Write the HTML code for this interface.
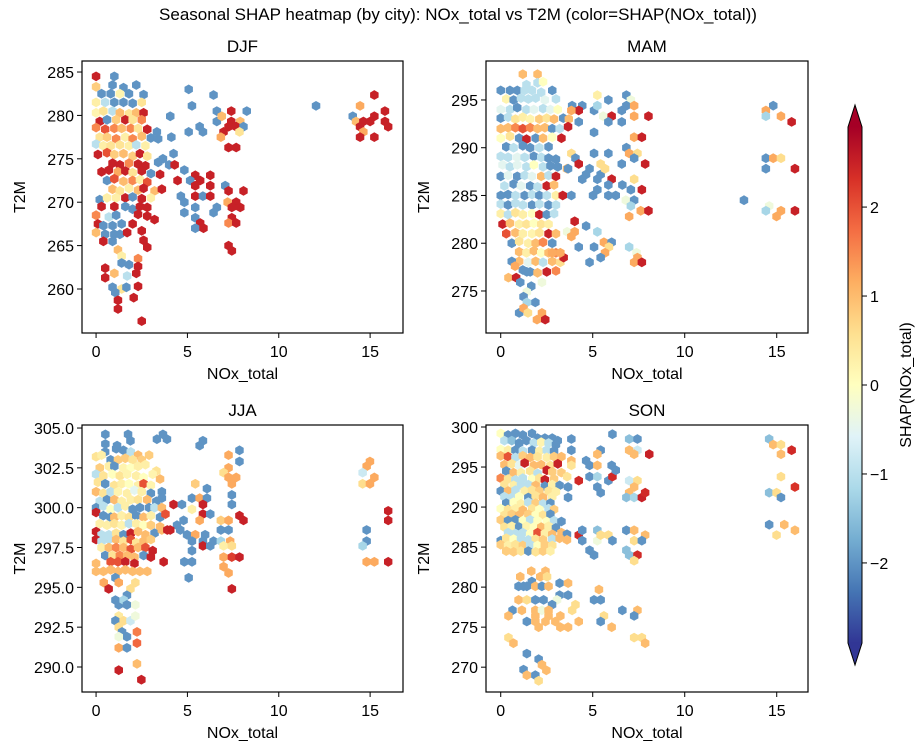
<!DOCTYPE html>
<html><head><meta charset="utf-8"><style>
body{margin:0;background:#fff;}
svg{display:block;font-family:"Liberation Sans",Arial,sans-serif;}
</style></head><body>
<svg id="fig" width="917" height="746" viewBox="0 0 917 746" xmlns="http://www.w3.org/2000/svg">
<text x="458" y="20" font-size="17" text-anchor="middle">Seasonal SHAP heatmap (by city): NOx_total vs T2M (color=SHAP(NOx_total))</text>
</svg>
<script>
const xTicks=[0,5,10,15];
const djfYTicks=[260,265,270,275,280,285];
const mamYTicks=[275,280,285,290,295];
const jjaYTicks=[290.0,292.5,295.0,297.5,300.0,302.5,305.0];
const sonYTicks=[270,275,280,285,290,295,300];
const cbTicks=[-2,-1,0,1,2];
const seasons=["DJF","MAM","JJA","SON"];
const djfCells=[[0,284.5,2.5],[1,284.5,-2],[0,283.3,0.8],[0.9,283.5,-2],[1.5,283.2,-2],[2.2,283.5,-2],[0.3,282.5,-2],[0.8,282.5,-2],[1.3,282.5,0.2],[1.8,282.5,-2],[2.6,282.4,-2],[0,281.5,0.3],[0.5,281.5,-1],[1,281.5,-2],[1.5,281.5,-2],[2,281.4,-2],[2.5,281.5,0.5],[0,280.3,0.2],[0.4,280.5,0.5],[0.9,280.5,-1],[1.3,280.3,1],[1.8,280.2,0.5],[2.2,280.3,1],[2.6,280.3,2.5],[0.2,279.3,2.5],[0.6,279.5,-2],[1.1,279.5,0.8],[1.6,279.5,2.5],[2.0,279.5,0.5],[2.5,279.5,1.5],[0,278.6,1.5],[0.5,278.4,2],[1,278.5,1.5],[1.4,278.5,1],[1.9,278.5,1.5],[2.3,278.5,0.5],[2.8,278.4,2.5],[0.2,277.5,0.5],[0.6,277.5,0.8],[1.1,277.3,1.5],[1.6,277.5,0.3],[2.0,277.3,1.5],[2.5,277.6,1],[3,277.4,-2],[3.4,277.3,-2],[0,276.7,-1],[0.4,276.5,0.3],[0.8,276.5,0.5],[1.3,276.6,0.5],[1.8,276.5,0.3],[2.2,276.6,-1],[2.7,276.5,0.3],[0.1,275.5,2.5],[0.6,275.7,2],[1.0,275.5,0.8],[1.5,275.6,1],[2.0,275.3,0.8],[2.4,275.6,2.5],[2.8,275.3,0.5],[0.9,274.5,2.5],[1.3,274.3,2.5],[1.8,274.5,1.5],[2.3,274.4,2.5],[2.7,274.2,2.5],[3.4,274.6,-2],[0.3,273.5,2.5],[0.7,273.7,2.5],[1.2,273.5,1.2],[1.6,273.6,2.5],[2.0,273.4,0.5],[2.5,273.6,2.5],[3.0,273.3,-2],[3.5,273.2,2.5],[0.6,272.5,-2],[1.0,272.7,2],[1.5,272.4,1],[2.0,272.5,1.5],[2.4,272.6,0.3],[2.8,272.3,2],[0.9,271.5,1],[1.3,271.3,0.5],[1.8,271.6,0.3],[2.3,271.4,1],[2.6,271.6,2.5],[3.2,271.3,1],[3.6,271.5,2.5],[0.2,270.3,-2],[0.6,270.5,0.3],[1.1,270.5,0.3],[1.6,270.5,2.5],[2.0,270.6,-2],[2.5,270.4,2.5],[3.0,270.5,0.3],[0.3,269.5,2.5],[1.0,269.5,2.5],[1.6,269.5,-2],[2.0,269.2,-2],[2.4,269.5,2.5],[2.8,269.4,2.5],[0,268.5,1.5],[0.7,268.3,-1],[1.1,268.5,-2],[2.3,268.6,2.5],[2.8,268.4,2.5],[3.2,268.0,2.5],[0.1,267.5,2.5],[0.4,267.3,-2],[0.9,267.3,-2],[1.4,267.5,-2],[2.0,267.5,2.5],[0,266.5,1],[0.5,266.3,-2],[1.0,266.3,-2],[1.3,266.3,-2],[1.7,266.5,2.5],[2.5,266.7,2.5],[0.4,265.5,2.5],[0.9,265.5,-2],[2.6,265.6,2.5],[1.2,264.5,1],[2.8,264.8,2.5],[1.4,263.8,0.3],[2.3,263.5,1.5],[1.4,263.0,-2],[1.8,262.8,-2],[2.3,262.6,2.5],[0.5,262.4,2.5],[0.5,261.3,2.5],[1.0,261.8,1],[1.7,261.5,-1],[2.2,261.8,2.5],[0.9,260.2,-2],[1.4,260.0,0.5],[2.3,260.3,2.5],[1.66,260.2,-2],[1.05,259.6,-2],[1.2,258.7,2.5],[2.06,259,2.5],[1.2,257.7,2.5],[2.5,256.3,2.5],
[5.07,283.0,-2],[6.43,282.35,-2],[5.25,281.1,-2],[6.61,280.5,-2],[7.4,280.5,2.5],[8.25,280.5,-2],[4.06,279.9,-2],[6.61,279.3,-2],[6.88,279.9,1],[7.89,279.3,1],[7.4,279.3,2.5],[7.25,278.7,2.5],[7.67,278.7,2.5],[8.07,278.7,-2],[5.67,278.7,-2],[5.07,278.1,-2],[5.85,278.1,-2],[6.98,278.1,2.5],[7.85,278.1,0.5],[6.83,277.5,1.2],[4.12,277.5,-2],[3.33,278.1,-2],[7.25,276.3,2.5],[7.67,276.3,2.5],[4.24,275.6,-2],[3.66,275.0,-2],[4.0,274.3,-2],[4.3,274.3,2.5],[4.83,273.7,-2],[4.46,272.5,2.5],[5.43,273.1,2.5],[6.25,273.1,2.5],[5.15,272.5,-2],[5.7,272.5,2.5],[5.43,271.9,2.5],[6.25,271.9,2.5],[7.07,271.9,-2],[7.25,271.3,2.5],[8.07,271.3,2.5],[4.64,270.7,-2],[5.43,270.7,2.5],[5.85,270.7,-2],[6.25,270.7,2.5],[4.83,270.0,-2],[7.2,270.0,1.2],[7.67,270.0,2.5],[5.43,269.4,-2],[6.61,269.4,-2],[7.43,269.4,2.5],[7.89,269.4,2.5],[4.83,268.8,-2],[6.43,268.8,-2],[7.43,268.2,2.5],[5.43,268.2,-2],[5.7,267.6,2.5],[7.25,267.6,1.5],[7.67,267.6,2.5],[5.43,267.0,-2],[5.88,267.0,2.5],[7.25,265.0,2.5],[7.43,264.4,2.5],[12.04,281.1,-2],
[15.23,282.35,2.5],[14.45,281.1,1.2],[15.81,280.5,2.5],[14.05,279.9,-2],[15.23,279.9,2.5],[14.23,279.3,1],[14.63,279.3,2.5],[15.0,279.3,2.5],[15.81,279.3,2.5],[14.45,278.7,2.5],[15.99,278.7,2.5],[14.63,278.1,1.2],[14.45,277.5,2.5],[15.23,277.5,2.5]];
const mamCells=[[1.2,297.7,1],[2.0,297.7,1],[1.4,296.6,-1],[2.0,296.8,-1],[2.3,296.9,0],[0,296,-2],[0.5,296,-2],[0.9,296,-2],[1.3,296,-1],[1.7,296,-1],[2.2,295.8,-1],[2.8,296,-2],[0.3,295.1,0.2],[0.7,295.0,-2],[1.1,295.2,-1],[1.5,295.1,-1],[1.9,295.2,-1],[2.4,295.0,-0.5],[3.0,295.1,-1],[0.0,294.0,-0.5],[0.5,294.0,-1],[0.9,294.2,-2],[1.4,294.0,-1],[1.8,294.0,-0.5],[2.3,294.1,-1],[2.7,294.0,-0.5],[3.1,294.0,0],[0,293.1,-2],[0.4,293.2,-1],[0.8,293.0,0.5],[1.2,293.2,0.3],[1.6,293.0,0.2],[2.1,293.0,0.8],[2.5,293.1,0.5],[2.9,293.0,1],[3.4,293.1,-2],[3.7,293.0,1],[0,292,1],[0.4,292.1,1],[0.8,292.1,1.5],[1.2,292.0,2],[1.6,292.1,1.5],[2.0,292.0,1],[2.4,292.1,1],[2.8,292.0,-2],[3.2,292,-1],[0,291,0],[0.5,291.2,0.5],[1,291,-2],[1.4,290.9,2.5],[1.9,291,-2],[2.3,291,1],[2.8,291.1,0],[3.3,291,2.5],[0.3,290.1,-2],[0.7,290,-1],[1.2,290.2,-2],[1.6,290,-2],[2.1,290.0,-1],[2.6,290.1,-2],[0,289.1,-1],[0.4,289,-1],[0.9,289,-0.5],[1.3,289,-1],[1.8,289.1,-2],[2.2,289,-1],[2.6,288.9,-2],[3.0,288.8,-2],[0.1,288.2,-0.5],[0.5,288,-1],[0.9,288.2,-0.5],[1.4,288,-1],[1.8,288.2,0],[2.3,288,-1],[2.7,288.1,-2],[3.1,288,-2],[3.6,287.8,1],[0,287,-2],[0.4,287.1,-0.5],[0.9,287,-2],[1.3,287.1,-1],[1.7,287,-0.5],[2.2,287,1],[2.6,287.1,-1],[3.0,287,2.5],[0.2,286,-1],[0.7,286.2,-2],[1.1,286,-0.5],[1.6,286,-2],[2.0,285.9,-1],[2.5,286,2.5],[2.9,286.1,1],[0,285,-2],[0.4,285.1,-2],[0.8,285,-1],[1.3,285,-2],[1.7,285.1,-1],[2.1,285,-2],[2.5,285,-1],[3.0,285,0.3],[0,284.1,-1],[0.4,284,-2],[0.8,284.2,-1],[1.2,284,-1],[1.7,284,-2],[2.1,284.1,-1],[2.6,284,-2],[3.0,284,-1],[0,283.1,0.3],[0.4,283,-1],[0.8,283.2,0.5],[1.2,283,0.3],[1.7,283.1,0],[2.1,283,2.5],[2.5,283,-2],[2.9,283.1,-1],[0.1,282,2.5],[0.5,282.1,1],[1.0,282,0.3],[1.4,282,0.5],[1.8,282.1,0],[2.2,282,0.5],[2.6,282,0.3],[0.3,281,2],[0.8,281.1,1],[1.2,281,0.3],[1.7,281,0.2],[2.1,281.1,0.5],[2.6,281,2.5],[3.0,281,1],[0.6,280,-2],[1.0,280.2,0.5],[1.5,280,0.3],[1.9,280,1],[2.3,280.1,1.5],[2.8,280,-2],[1.0,279.1,1],[1.4,279,0.3],[1.8,279.2,1],[2.2,279,0],[2.6,279,1],[3.0,279,1.5],[1.0,278.1,1],[1.5,278,-0.5],[1.9,278.1,1],[2.3,278,-1],[2.8,278.1,1],[1.2,277.2,-2],[1.6,277,-2],[2.0,276.9,1],[2.5,277,2.5],[3.0,277.1,1.5],
[0.6,278.1,-2],[0.78,277.6,1.2],[1.42,277.0,-2],[0.42,276.4,1],[0.84,276.4,2.5],[1.06,275.9,-2],[1.66,275.5,-2],[2.24,275.9,-0.3],[1.42,274.9,-0.3],[1.24,274.4,-2],[1.88,273.8,-2],[1.42,273.8,-1.2],[1.0,272.7,-2],[1.24,273.2,1.2],[1.48,272.7,0.6],[2.24,272.7,1.2],[1.97,272.0,1.2],[2.42,272.0,2.5],
[5.25,295.5,0.3],[5.85,295.0,-2],[6.83,295.5,-2],[7.07,295.0,-0.3],[3.88,294.4,-2],[4.43,294.4,-2],[5.07,293.9,-2],[5.25,294.4,-1.2],[4.24,293.9,2.5],[3.84,293.9,1.2],[5.57,293.3,-0.3],[6.03,293.3,2.5],[6.58,293.9,-2],[6.83,294.4,-2],[7.25,294.4,1.2],[7.25,293.3,1.2],[8.03,293.3,2.5],[4.24,292.7,-2],[5.85,292.7,-2],[6.58,292.7,-2],[3.66,292.2,2.5],[5.07,291.6,-2],[7.25,291.1,1.2],[7.67,291.1,2.5],[6.83,290.0,-2],[3.84,289.4,0.6],[5.07,289.4,-2],[5.85,289.4,-2],[6.98,289.4,1.2],[7.43,289.4,0.6],[4.06,288.9,-2],[4.24,288.3,2.5],[5.43,288.3,0.6],[6.58,288.3,-2],[7.25,288.9,-2],[7.85,288.3,2.5],[4.83,287.8,-2],[3.66,287.8,-2],[4.64,287.2,-2],[5.43,287.2,-2],[5.67,287.8,0.6],[4.43,286.7,-2],[5.25,286.7,-2],[6.03,286.7,2.5],[7.25,286.7,0.6],[6.61,286.1,-2],[5.25,285.6,-2],[5.85,286.1,-2],[7.07,285.6,-2],[7.67,285.6,2.5],[3.37,285.0,2.5],[3.84,285.0,-2],[5.02,285.0,-2],[5.85,285.0,-2],[6.25,285.0,-2],[6.8,284.5,-0.3],[7.25,284.5,-2],[7.07,283.9,-1.2],[7.61,283.4,1.2],[8.03,283.4,2.5],[6.98,282.8,1.2],[4.02,282.3,2.5],[4.64,281.8,-2],[5.25,281.2,-1.2],[3.61,281.2,-0.3],[4.02,281.2,1.2],[3.84,280.7,1.2],[4.24,279.6,-2],[5.07,279.6,-2],[5.61,280.1,1.2],[6.03,280.1,-2],[5.88,279.6,0.6],[5.67,279.0,1.2],[5.43,278.5,-2],[4.83,278.0,-2],[6.98,279.6,-1.2],[7.38,279.0,-0.3],[7.43,278.5,1.2],[7.25,278.0,1.2],[7.67,278.0,2.5],[3.24,278.0,0.6],[3.42,278.5,2.5],[2.79,279.0,1.2],[3.24,279.0,1.2],
[14.81,294.4,-2],[14.41,293.9,1.2],[14.41,293.3,-1.2],[15.23,293.3,1.2],[15.81,292.7,2.5],[14.41,288.9,-2],[14.81,288.9,1.2],[15.23,288.9,0.6],[14.41,287.8,-2],[15.99,287.8,2.5],[13.22,284.5,-2],[14.59,283.9,-0.3],[14.41,283.4,-1.2],[15.23,283.4,1.2],[15.99,283.4,2.5],[14.99,282.8,1.2]];
const jjaCells=[[0.5,303.5,-2],[1.1,303.7,-2],[1.5,303.6,-2],[1.9,303.5,-1],[2.3,303.3,1],[0,303.2,0.5],[0.3,303.3,0.3],[0.8,303.0,-2],[1.2,303.0,0.8],[1.6,303.1,0.8],[2.0,303.0,0.5],[2.5,303,0.8],[2.9,303.3,0.8],[0.2,302.5,0.8],[0.7,302.6,0.3],[1.0,302.6,-2],[1.5,302.5,0.2],[1.9,302.5,0],[2.3,302.6,0.3],[2.7,302.7,0.3],[3.3,302.3,0.5],[0,302.1,-1],[0.4,302,0.5],[0.9,302.1,0],[1.3,302,0.5],[1.7,302.1,0.2],[2.2,302,0.3],[2.6,301.9,0],[3.1,302.1,0.2],[3.5,301.8,1],[0.1,301.6,0.5],[0.5,301.5,-2],[1.0,301.4,0.5],[1.4,301.5,0.3],[1.8,301.5,0],[2.3,301.4,0.3],[2.6,301.5,2],[3.0,301.4,0.2],[0,301.0,1],[0.4,300.9,0.5],[0.8,301,-1],[1.2,301.0,0.2],[1.7,300.9,0.3],[2.1,301.1,-0.5],[2.5,301,0.3],[3.0,300.9,-2],[3.6,301.0,-2],[0.2,300.4,-1],[0.6,300.5,-2],[1.0,300.5,1],[1.4,300.4,0.3],[1.9,300.5,0.3],[2.3,300.5,0.5],[2.8,300.5,1],[3.3,300.4,-2],[3.6,300.6,-2],[0.0,300.0,-2],[0.4,300.1,-1],[0.8,299.9,0],[1.2,300.0,-1],[1.6,300.1,0.3],[2.0,299.9,-2],[2.4,300,-2],[2.9,300,-2],[3.2,300,-1],[3.6,300.0,1],[0,299.7,2.5],[0.4,299.5,-2],[0.8,299.4,-2],[1.0,299.4,1],[1.4,299.5,0.3],[1.8,299.4,0.5],[2.2,299.5,-2],[2.6,299.4,1],[3.0,299.5,0.3],[3.5,299.4,-2],[3.8,299.6,2],[0.2,299.0,0.3],[0.6,298.9,0.3],[1.0,299,0.5],[1.4,298.9,0.2],[1.8,299,-1],[2.2,299,0.3],[2.6,298.9,0],[3.0,298.9,0.8],[3.5,298.8,1],[0,298.5,2.5],[0.3,298.3,-1],[0.7,298.3,-1],[1.1,298.4,0.5],[1.5,298.3,-2],[1.9,298.4,2.5],[2.3,298.5,1],[2.7,298.3,1],[3.2,298.4,-2],[3.6,298.6,1],[3.9,298.6,2.5],[0,298,2.5],[0.3,297.9,-1],[0.7,298,-1],[1.1,298.0,1],[1.5,297.9,0.5],[1.9,298,2],[2.2,297.8,0.5],[2.6,297.9,1],[3.0,298,0.8],[0.3,297.5,0.3],[0.7,297.5,1],[1.1,297.5,1.5],[1.5,297.5,1],[1.9,297.4,2],[2.3,297.5,1],[2.7,297.5,2],[3.1,297.3,2.5],[0.5,297,-2],[0.9,297,0.5],[1.3,297,1.5],[1.7,297.0,1],[2.1,296.9,1],[2.6,297.0,-2],[3.0,296.9,2.5],[0,296.5,1],[0.8,296.6,2],[1.2,296.6,2],[1.6,296.6,2.5],[2.1,296.5,2.5],[3.7,296.6,2.5],[0,296.0,1],[0.4,296,1],[0.8,296.1,1],[1.2,296,1],[1.6,296.1,1],[2,296,1],[2.4,296,1],[2.8,296,1],
[0.51,304.6,-2],[1.75,304.6,-2],[3.66,304.6,-2],[0.51,304.0,-2],[3.33,304.3,-2],[3.88,304.3,-2],[5.85,304.2,-2],[5.67,303.9,-2],[1.15,303.9,-2],[1.88,304.2,-2],
[7.85,303.6,-2],[7.85,302.9,-2],[7.25,303.3,1.2],[7.25,302.5,1.2],[6.98,302.2,0.6],[7.25,301.9,1.2],[7.67,301.9,1.2],[7.43,301.5,1.2],[7.43,300.8,-2],[7.43,300.2,-2],[7.85,299.5,2.5],[8.07,299.2,2.5],[5.43,301.5,0.8],[6.07,301.2,-2],[5.25,300.6,-2],[5.67,300.6,1.2],[6.07,300.6,-2],[4.24,300.2,2.5],[4.7,300.2,-2],[5.85,300.2,2.5],[5.25,299.9,0.3],[5.85,299.6,2.5],[6.25,299.6,-2],[5.67,299.2,1.2],[4.79,299.2,-2],[4.43,298.9,-2],[4.06,298.6,2.5],[4.61,298.6,-2],[4.98,298.3,-2],[5.43,298.3,1.2],[5.25,297.9,-2],[5.85,297.9,-2],[5.97,298.3,-2],[5.85,297.6,2.5],[6.25,297.6,-2],[6.43,297.9,-2],[6.83,299.2,0.8],[7.25,299.2,1.2],[6.83,298.6,-2],[7.25,298.6,-2],[6.83,297.9,-1.2],[7.34,297.9,1.2],[6.98,297.6,0.3],[7.43,297.6,0.6],[5.25,297.3,-2],[4.83,296.6,-2],[5.25,296.6,-2],[5.07,295.6,-2],[6.98,296.9,1.2],[7.43,296.9,2.2],[7.85,296.9,2.5],[6.98,296.3,1.2],[7.25,295.9,1.2],[7.43,294.9,2.5],
[14.99,302.9,1.2],[14.81,302.6,1.2],[14.59,302.2,-0.8],[15.23,301.9,1.2],[14.59,301.5,0.6],[14.99,301.5,1.2],[15.99,299.8,2.5],[15.99,299.2,2.5],[14.81,298.6,-2],[14.81,297.9,-2],[14.59,297.6,-1.2],[14.81,296.6,1.2],[15.23,296.6,1.2],[15.99,296.6,2.5],
[1.06,295.6,-2],[0.42,295.3,1.2],[0.69,294.9,2.5],[1.24,295.3,1.2],[1.88,294.9,0.6],[2.15,295.3,0.6],[1.06,294.2,-2],[1.69,294.5,-2],[1.24,293.9,-2],[1.51,294.2,-1.2],[1.69,293.9,-2],[2.15,293.9,-0.3],[1.24,293.2,0.4],[1.06,292.9,-2],[1.51,292.9,0.6],[1.88,292.9,-0.8],[2.15,293.2,-0.3],[1.24,292.5,0.6],[1.42,292.2,-2],[1.69,291.9,-2],[1.24,291.9,-0.3],[2.24,292.2,1.6],[2.24,291.5,1.8],[1.24,291.2,1.2],[1.69,291.2,-2],[2.24,290.2,1],[1.24,289.8,2.5],[2.48,289.2,2.5]];
const sonCells=[[0,299.2,0],[0.4,299.0,-2],[0.8,299.2,-2],[1.2,299.0,-2],[1.7,299.2,-2],[2.0,298.6,-2],[2.4,298.6,-2],[2.8,298.6,-2],[3.1,298.3,-2],[0.2,298.3,-1],[0.6,298.3,-1.5],[1.0,298.0,-2],[1.4,298.3,-2],[1.8,298.0,-1],[2.2,298.1,0.2],[2.6,298.0,-1],[3.0,297.8,-2],[0,297.2,0],[0.4,297.1,0.3],[0.8,297.1,-2],[1.2,297.0,-1],[1.7,297.1,-2],[2.1,297.0,0.3],[2.5,297.1,-1],[2.9,297.0,-2],[0,296.4,1],[0.4,296.3,2],[0.8,296.2,-1],[1.2,296.4,0.8],[1.6,296.2,1],[2.0,296.3,0.5],[2.5,296.2,0.3],[2.9,296.3,0.8],[3.3,296.3,1],[0.2,295.3,1],[0.6,295.4,0.5],[1.0,295.2,-0.5],[1.3,295.5,2.5],[1.8,295.2,1],[2.2,295.3,1],[2.7,295.2,0.5],[3.1,295.4,2.5],[0.3,294.5,-2],[0.7,294.3,1],[1.1,294.3,0.3],[1.6,294.5,0.5],[2.0,294.2,-1],[2.5,294.6,2.5],[2.8,294.4,0.8],[3.3,294.3,0.8],[0,293.6,1.5],[0.4,293.5,0.5],[0.8,293.4,-1],[1.2,293.6,-1],[1.7,293.5,0],[2.1,293.6,0.5],[2.4,293.4,2.5],[2.9,293.5,0.8],[0.2,292.8,0.5],[0.7,292.7,0.3],[1.1,292.7,-1],[1.5,292.8,-1],[1.9,292.7,1],[2.4,292.6,-2],[2.8,292.8,0.3],[3.2,292.7,-2],[0,292.0,-2],[0.4,292.0,1],[0.8,292.1,-1],[1.3,292.0,0.3],[1.7,292.1,0.5],[2.1,292.0,0.8],[2.6,292.0,0.5],[3.0,291.9,0.3],[0.2,291.3,-1],[0.6,291.2,-1],[1.0,291.3,0],[1.5,291.2,-2],[1.9,291.4,0.5],[2.3,291.2,1],[2.8,291.3,0.3],[0.3,290.5,-2],[0.7,290.6,0],[1.1,290.4,0.3],[1.5,290.6,-1],[1.9,290.5,0.8],[2.3,290.4,-1],[2.7,290.5,-2],[0,289.8,0],[0.4,289.7,0.5],[0.8,289.8,0.3],[1.2,289.6,1],[1.7,289.8,0.5],[2.1,289.7,0],[2.6,289.8,-1],[2.9,289.7,0.8],[0.2,289.0,0.5],[0.6,289.1,0.8],[1.0,289.0,1],[1.5,289.1,0.8],[1.9,289,0],[2.3,289.0,0.5],[2.7,289.1,-2],[0,288.4,0.8],[0.4,288.3,-2],[0.8,288.4,-2],[1.2,288.3,0],[1.6,288.4,-1],[2.0,288.3,0],[2.5,288.2,0],[2.9,288.3,-1],[3.3,288.2,-2],[0.2,287.5,0.5],[0.6,287.6,0.3],[1.0,287.5,-2],[1.4,287.6,0.2],[1.8,287.5,0],[2.2,287.5,1],[2.6,287.6,0.3],[3.0,287.4,-2],[0.4,286.8,-1],[0.8,286.7,-1],[1.2,286.8,-1],[1.6,286.6,0],[2.0,286.8,2],[2.4,286.7,0.3],[2.8,286.6,1],[3.3,286.8,1],[3.6,286.6,-2],[0,285.8,-2],[0.3,286.1,0.5],[0.7,286.0,0],[1.1,286.0,-1],[1.5,285.9,-1],[1.9,286.0,0.5],[2.3,285.9,0.8],[2.8,286.0,-1],[3.2,286.1,1],[3.6,285.9,1],[0,285.3,0.8],[0.4,285.2,0.3],[0.8,285.3,0.5],[1.2,285.2,0.8],[1.6,285.3,-1],[2.0,285.2,0],[2.4,285.3,0.8],[2.8,285.2,0.5],[0.3,284.5,0.8],[0.7,284.4,0.8],[1.1,284.5,0.5],[1.5,284.5,-2],[1.9,284.4,0.5],[2.3,284.5,0.8],[2.7,284.5,0.3],
[6.07,299.1,-2],[3.84,298.5,-2],[3.84,297.1,-2],[3.84,295.8,1],[3.84,295.2,0.5],[3.61,293.8,0.5],[3.66,292.5,-2],[3.66,291.2,-2],[4.64,295.8,-2],[4.83,295.2,-2],[5.25,295.2,1],[5.43,297.1,-2],[5.25,296.6,1],[4.83,293.8,-2],[5.25,293.8,-1.2],[4.24,293.3,2.4],[5.25,292.5,-2],[5.43,291.8,-2],[5.85,293.3,-2],[6.07,293.8,2.4],[6.03,295.2,-2],[6.25,294.6,-2],[6.98,298.5,-1.5],[7.43,298.5,-2],[6.98,297.1,1],[7.43,297.1,-0.8],[7.25,296.6,1],[8.07,296.6,2.5],[6.98,293.3,-0.8],[7.43,293.3,0.6],[7.25,292.5,1],[6.98,291.8,1],[6.83,291.2,-1.5],[7.25,291.2,-1.2],[7.67,291.2,2.5],[7.85,291.8,2.4],[4.24,286.5,2.4],[4.43,287.1,-2],[4.43,285.8,-2],[5.25,287.1,-1.5],[5.25,285.8,-0.3],[5.43,286.5,0.6],[5.85,286.5,0.6],[6.07,285.8,-2],[4.83,284.6,-2],[5.07,284.0,-2],[6.83,287.1,-2],[7.25,287.1,1],[7.85,286.5,1],[7.25,285.8,0.6],[7.67,285.8,-2],[6.83,284.6,-1.5],[6.98,284.0,-1.5],[7.43,284.0,2.4],[7.25,283.3,0.6],
[5.34,279.7,1],[5.07,278.4,-2],[5.43,278.4,-2],[6.61,277.1,-2],[7.43,277.1,1],[7.25,276.4,-2],[5.61,276.4,0.6],[5.43,275.7,-2],[6.03,275.0,1],[4.24,275.7,1],[3.88,277.1,0.6],[4.06,277.8,0.6],[7.25,273.7,0.6],[7.67,273.7,0.6],[7.85,273.0,1],[0.42,273.7,0.6],[0.69,273.0,1],[1.42,271.7,-2],[2.06,271.0,-2],[1.24,269.7,-2],[2.24,270.3,1],[2.48,269.6,1],[1.42,269.0,1],[1.88,269.0,-2],[2.06,268.3,0.6],
[14.59,298.5,-1.5],[14.81,297.8,1],[15.23,297.8,0.6],[15.81,297.1,2.4],[15.23,296.6,1],[15.23,293.8,0.6],[15.99,292.5,2.3],[14.59,291.8,-1.5],[14.99,291.8,0.6],[15.23,291.2,-2],[14.59,287.8,-2],[15.41,287.8,1],[15.99,287.1,1],[14.99,286.5,0.6],
[1.66,282.0,1],[2.43,282.0,1],[1.06,281.3,1],[1.69,280.7,-2],[1.24,280.1,-2],[0.97,280.1,-2],[1.42,280.1,-2],[1.88,280.1,1],[2.24,280.1,-2],[2.6,280.1,1],[2.15,281.3,1],[2.52,281.3,0.6],[3.2,280.5,-2],[3.66,280.5,1],[3.2,279.0,-2],[3.66,279.0,-2],[0.97,278.4,1],[1.42,278.4,0.6],[1.88,278.4,-2],[2.33,278.4,-2],[3.06,278.4,-0.3],[2.79,277.8,-2],[0.64,277.1,-2],[1.15,277.1,1],[1.88,277.1,1],[2.24,277.1,-0.3],[2.6,277.1,1],[0.42,276.4,1],[1.88,276.4,1],[2.6,276.4,1],[3.24,276.4,1],[1.42,275.7,-2],[1.88,275.7,1],[2.43,275.7,1],[2.97,275.7,1],[2.06,275.0,1],[3.24,275.0,1],[3.66,275.0,1]];

const cmapStops=["#313695","#4575b4","#74add1","#abd9e9","#e0f3f8","#ffffbf","#fee090","#fdae61","#f46d43","#d73027","#a50026"];
const VMIN=-2.9,VMAX=2.9;
function hex2rgb(h){return [parseInt(h.slice(1,3),16),parseInt(h.slice(3,5),16),parseInt(h.slice(5,7),16)];}
function cmap(v){let t=(v-VMIN)/(VMAX-VMIN);t=Math.max(0,Math.min(1,t));const p=t*10,i=Math.min(9,Math.floor(p)),f=p-i;const a=hex2rgb(cmapStops[i]),b=hex2rgb(cmapStops[i+1]);return "rgb("+a.map((c,k)=>Math.round(c+(b[k]-c)*f)).join(",")+")";}
const NS="http://www.w3.org/2000/svg";
const svg=document.getElementById("fig");
function el(tag,attrs,parent){const e=document.createElementNS(NS,tag);for(const k in attrs)e.setAttribute(k,attrs[k]);(parent||svg).appendChild(e);return e;}

const panels=[
 {name:"djf",title:seasons[0],L:82,T:61,W:321,H:272,xmin:-0.77,xmax:16.8,ymin:254.93,ymax:286.27,yt:djfYTicks,cells:djfCells,fmt:v=>String(v)},
 {name:"mam",title:seasons[1],L:486,T:61,W:322,H:272,xmin:-0.8,xmax:16.7,ymin:270.6,ymax:299.08,yt:mamYTicks,cells:mamCells,fmt:v=>String(v)},
 {name:"jja",title:seasons[2],L:82,T:425,W:321,H:267,xmin:-0.77,xmax:16.8,ymin:288.43,ymax:305.19,yt:jjaYTicks,cells:jjaCells,fmt:v=>v.toFixed(1)},
 {name:"son",title:seasons[3],L:486,T:425,W:322,H:267,xmin:-0.8,xmax:16.7,ymin:266.9,ymax:300.25,yt:sonYTicks,cells:sonCells,fmt:v=>String(v)}
];
const R=4.9;
panels.forEach(p=>{
 const g=el("g",{});
 
 
 const sx=v=>p.L+(v-p.xmin)/(p.xmax-p.xmin)*p.W;
 const sy=v=>p.T+p.H-(v-p.ymin)/(p.ymax-p.ymin)*p.H;
 const cg=el("g",{},g);
 
 
 p.cells.forEach(c=>{
  const cx=sx(c[0]),cy=sy(c[1]);let pts=[];
  for(let k=0;k<6;k++){const a=Math.PI/180*(60*k-90);pts.push((cx+R*Math.cos(a)).toFixed(1)+","+(cy+R*Math.sin(a)).toFixed(1));}
  const h=el("polygon",{points:pts.join(" "),fill:cmap(c[2])},cg);
  
  
 });
 const fr=el("rect",{x:p.L,y:p.T,width:p.W,height:p.H,fill:"none",stroke:"#000","stroke-width":1.2},g);
 
 
 xTicks.forEach(t=>{
  const x=sx(t);
  el("line",{x1:x,x2:x,y1:p.T+p.H,y2:p.T+p.H+5,stroke:"#000","stroke-width":1},g);
  const tx=el("text",{x:x,y:p.T+p.H+24,"font-size":16,"text-anchor":"middle"},g);
  tx.textContent=String(t);
  
  
 });
 p.yt.forEach(t=>{
  const y=sy(t);
  el("line",{x1:p.L-5,x2:p.L,y1:y,y2:y,stroke:"#000","stroke-width":1},g);
  const tx=el("text",{x:p.L-8,y:y+6,"font-size":16,"text-anchor":"end"},g);
  tx.textContent=p.fmt(t);
  
  
 });
 const ti=el("text",{x:p.L+p.W/2,y:p.T-9,"font-size":17,"text-anchor":"middle"},g);
 ti.textContent=p.title;
 
 
 const xl=el("text",{x:p.L+p.W/2,y:p.T+p.H+46,"font-size":16,"text-anchor":"middle"},g);
 xl.textContent="NOx_total";
 
 
 const yx=p.L-57, yy=p.T+p.H/2;
 const yl=el("text",{x:yx,y:yy,"font-size":16,"text-anchor":"middle",transform:"rotate(-90 "+yx+" "+yy+")"},g);
 yl.textContent="T2M";
 
 
});

// colorbar
const cb={x:848,w:14,top:127,bot:643,tipTop:105,tipBot:665};
const cbG=el("g",{});


const defs=el("defs",{},cbG);
const grad=el("linearGradient",{id:"cbgrad",x1:0,y1:1,x2:0,y2:0},defs);
cmapStops.forEach((c,i)=>el("stop",{offset:(i/10),"stop-color":c},grad));
el("rect",{x:cb.x,y:cb.top,width:cb.w,height:cb.bot-cb.top,fill:"url(#cbgrad)"},cbG);
el("polygon",{points:`${cb.x},${cb.top} ${cb.x+cb.w},${cb.top} ${cb.x+cb.w/2},${cb.tipTop}`,fill:cmapStops[10]},cbG);
el("polygon",{points:`${cb.x},${cb.bot} ${cb.x+cb.w},${cb.bot} ${cb.x+cb.w/2},${cb.tipBot}`,fill:cmapStops[0]},cbG);
el("polygon",{points:`${cb.x},${cb.top} ${cb.x+cb.w/2},${cb.tipTop} ${cb.x+cb.w},${cb.top} ${cb.x+cb.w},${cb.bot} ${cb.x+cb.w/2},${cb.tipBot} ${cb.x},${cb.bot}`,fill:"none",stroke:"#000","stroke-width":1},cbG);
const cy=v=>cb.bot-(v-VMIN)/(VMAX-VMIN)*(cb.bot-cb.top);
cbTicks.forEach(t=>{
 const y=cy(t);
 el("line",{x1:cb.x+cb.w,x2:cb.x+cb.w+5,y1:y,y2:y,stroke:"#000","stroke-width":1},cbG);
 const tx=el("text",{x:cb.x+cb.w+8,y:y+6,"font-size":16},cbG);
 tx.textContent=t<0?"\u2212"+Math.abs(t):String(t);
 
 
});
const cl=el("text",{x:911,y:385,"font-size":16,"text-anchor":"middle",transform:"rotate(-90 911 385)"},cbG);
cl.textContent="SHAP(NOx_total)";


</script>
</body></html>
